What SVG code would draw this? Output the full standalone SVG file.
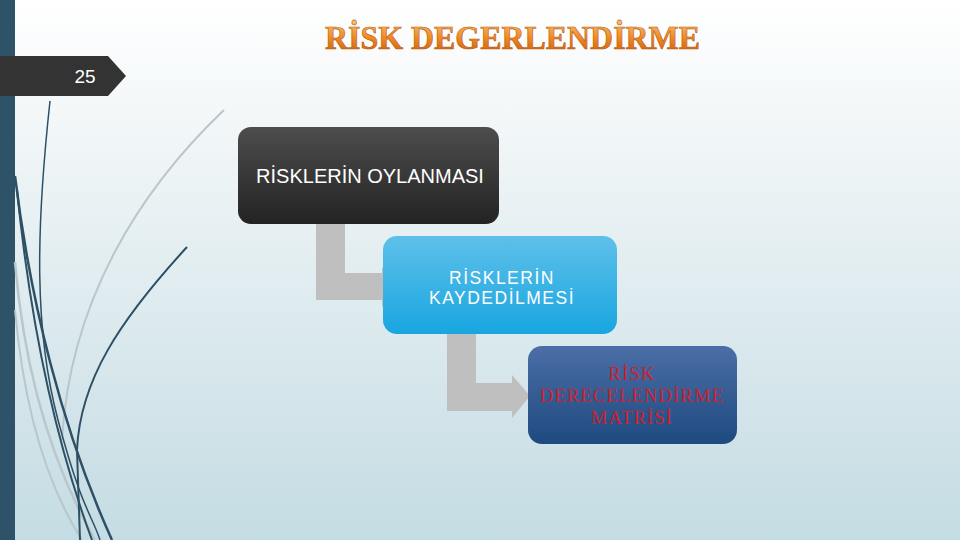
<svg xmlns="http://www.w3.org/2000/svg" width="960" height="540" viewBox="0 0 960 540">
<defs>
<linearGradient id="bg" x1="0" y1="0" x2="0" y2="1">
<stop offset="0" stop-color="#ffffff"/>
<stop offset="0.3" stop-color="#eef4f6"/>
<stop offset="1" stop-color="#c4dce3"/>
</linearGradient>
<linearGradient id="title" x1="0" y1="0" x2="0" y2="1">
<stop offset="0" stop-color="#fcc37a"/>
<stop offset="0.5" stop-color="#ef8a25"/>
<stop offset="1" stop-color="#c85a0c"/>
</linearGradient>
<linearGradient id="g1" x1="0" y1="0" x2="0" y2="1">
<stop offset="0" stop-color="#4d4d4d"/>
<stop offset="1" stop-color="#232323"/>
</linearGradient>
<linearGradient id="g2" x1="0" y1="0" x2="0" y2="1">
<stop offset="0" stop-color="#5ec0ea"/>
<stop offset="1" stop-color="#18a6e0"/>
</linearGradient>
<linearGradient id="g3" x1="0" y1="0" x2="0" y2="1">
<stop offset="0" stop-color="#4b6ea6"/>
<stop offset="1" stop-color="#1e4a80"/>
</linearGradient>
</defs>
<style>
.lbl{font-family:"Liberation Sans",Arial,sans-serif;font-size:20px;fill:#ffffff;text-anchor:middle}
.lbl2{font-family:"Liberation Sans",Arial,sans-serif;font-size:17.5px;letter-spacing:1.5px;fill:#ffffff;text-anchor:middle}
.red{font-family:"Liberation Serif","Times New Roman",serif;font-size:18.5px;letter-spacing:1.2px;fill:#d0202e;text-anchor:middle}
.conn{fill:#bfbfbf}
.dk{fill:none;stroke:#2d5066}
.lt{fill:none;stroke:#b9c6cc}
</style>
<rect x="0" y="0" width="960" height="540" fill="url(#bg)"/>
<rect x="0" y="0" width="15" height="540" fill="#2e5368"/>
<g id="swooshes">
<path class="lt" stroke-width="2" d="M224,110 C140,190 70,300 62,440"/>
<path class="lt" stroke-width="2.5" d="M15,262 C25,380 55,470 95,540"/>
<path class="lt" stroke-width="2" d="M15,310 C25,420 50,490 82,540"/>
<path class="dk" stroke-width="1.5" d="M50,101 C36,230 34,330 58,420 S 92,515 100,540"/>
<path class="dk" stroke-width="2.5" d="M15,176 C30,300 62,430 112,540"/>
<path class="dk" stroke-width="2" d="M17,190 C30,320 55,440 92,540"/>
<path class="dk" stroke-width="2" d="M187,247 C120,320 80,380 77,450 L80,540"/>
</g>
<g id="slide-number">
<path d="M0,56 L108,56 L126,76 L108,96 L0,96 Z" fill="#333333"/>
<text x="85" y="83" font-family="Liberation Sans,Arial,sans-serif" font-size="19" fill="#ffffff" text-anchor="middle">25</text>
</g>
<g id="title-text">
<text x="325" y="49" textLength="375" lengthAdjust="spacingAndGlyphs" font-family="Liberation Serif,Times New Roman,serif" font-weight="bold" font-size="33" fill="url(#title)" stroke="#b8560c" stroke-width="0.6">RİSK DEGERLENDİRME</text>
</g>
<g id="connectors">
<path class="conn" d="M316,224 L345,224 L345,273 L382,273 L382,267 L398,287 L382,307 L382,300 L316,300 Z"/>
<path class="conn" d="M447,334 L476,334 L476,383 L512,383 L512,375 L530,396 L512,418 L512,411 L447,411 Z"/>
</g>
<g id="node1">
<rect x="238" y="127" width="261" height="97" rx="13" fill="url(#g1)"/>
<text class="lbl" x="370" y="183">RİSKLERİN OYLANMASI</text>
</g>
<g id="node2">
<rect x="383" y="236" width="234" height="98" rx="14" fill="url(#g2)"/>
<text class="lbl2" x="502" y="284">RİSKLERİN</text>
<text class="lbl2" x="502" y="304">KAYDEDİLMESİ</text>
</g>
<g id="node3">
<rect x="528" y="346" width="209" height="98" rx="14" fill="url(#g3)"/>
<text class="red" x="632" y="380">RİSK</text>
<text class="red" x="632" y="402">DERECELENDİRME</text>
<text class="red" x="632" y="424">MATRİSİ</text>
</g>
</svg>
